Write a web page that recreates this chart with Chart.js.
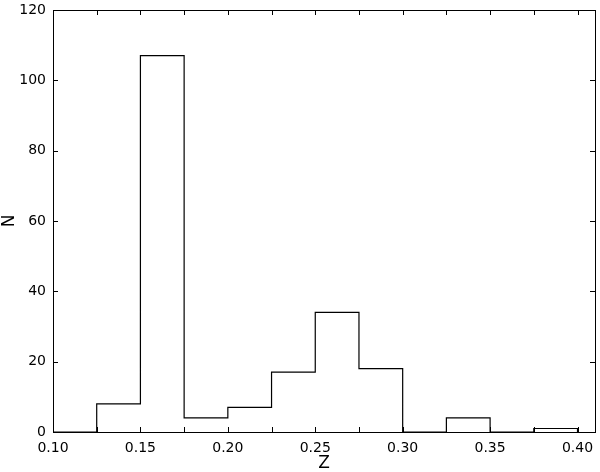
<!DOCTYPE html>
<html>
<head>
<meta charset="utf-8">
<script src="https://cdn.jsdelivr.net/npm/chart.js@4/dist/chart.umd.min.js"></script>
<style>
  body { margin: 0; background: #fff; }
  #wrap { width: 600px; height: 472px; }
</style>
</head>
<body>
<div id="wrap"><canvas id="hist" width="600" height="472"></canvas></div>
<script>
// bin edges of the histogram (width 0.025)
const binEdges = [0.100, 0.125, 0.150, 0.175, 0.200, 0.225, 0.250, 0.275, 0.300, 0.325, 0.350, 0.375, 0.400];
// counts per bin
const counts = [0, 8, 107, 4, 7, 17, 34, 18, 0, 4, 0, 1];
// labelled x ticks, y ticks
const xLabelTicks = [0.10, 0.15, 0.20, 0.25, 0.30, 0.35, 0.40];
const yTicks = [0, 20, 40, 60, 80, 100, 120];

// step outline: each edge gets the count of the bin starting there, last edge drops to 0
const stepPoints = binEdges.map((e, i) => ({ x: e, y: i < counts.length ? counts[i] : 0 }));

const font = { family: 'DejaVu Sans', size: 14 };

// frame + inward ticks on all four sides, like matplotlib
const frameTicks = {
    id: 'frameTicks',
    afterDraw(chart) {
        const { ctx, chartArea: a, scales: { x, y } } = chart;
        const len = 5;
        ctx.save();
        ctx.strokeStyle = '#000';
        ctx.lineWidth = 1;
        ctx.beginPath();
        binEdges.forEach(v => {
            const px = Math.round(x.getPixelForValue(v)) + 0.5;
            ctx.moveTo(px, a.bottom); ctx.lineTo(px, a.bottom - len);
            ctx.moveTo(px, a.top); ctx.lineTo(px, a.top + len);
        });
        yTicks.forEach(v => {
            const py = Math.round(y.getPixelForValue(v)) + 0.5;
            ctx.moveTo(a.left, py); ctx.lineTo(a.left + len, py);
            ctx.moveTo(a.right, py); ctx.lineTo(a.right - len, py);
        });
        ctx.stroke();
        ctx.strokeRect(Math.round(a.left) + 0.5, Math.round(a.top) + 0.5,
            Math.round(a.right - a.left), Math.round(a.bottom - a.top));
        ctx.restore();
    }
};

new Chart(document.getElementById('hist'), {
    type: 'line',
    data: {
        datasets: [{
            data: stepPoints,
            stepped: 'before',
            borderColor: '#000',
            borderWidth: 1.2,
            pointRadius: 0,
            fill: false
        }]
    },
    options: {
        responsive: false,
        animation: false,
        layout: { padding: { left: 0, top: 10, right: 5, bottom: 0 } },
        plugins: { legend: { display: false }, tooltip: { enabled: false } },
        scales: {
            x: {
                type: 'linear',
                min: 0.10,
                max: 0.41,
                afterFit: s => { s.height = 40; s.paddingLeft = 0; s.paddingRight = 0; },
                afterBuildTicks: s => { s.ticks = xLabelTicks.map(v => ({ value: v })); },
                grid: { display: false, drawTicks: false },
                border: { display: false },
                ticks: {
                    color: '#000',
                    font: font,
                    padding: 8,
                    maxRotation: 0,
                    callback: v => v.toFixed(2)
                },
                title: {
                    display: true,
                    text: 'Z',
                    color: '#000',
                    font: { family: 'DejaVu Sans', size: 17, lineHeight: 1 },
                    padding: 0
                }
            },
            y: {
                min: 0,
                max: 120,
                afterFit: s => { s.width = 53; s.paddingTop = 0; s.paddingBottom = 0; },
                afterBuildTicks: s => { s.ticks = yTicks.map(v => ({ value: v })); },
                grid: { display: false, drawTicks: false },
                border: { display: false },
                ticks: {
                    color: '#000',
                    font: font,
                    padding: 7
                },
                title: {
                    display: true,
                    text: 'N',
                    color: '#000',
                    font: { family: 'DejaVu Sans', size: 17, lineHeight: 1 },
                    padding: 1
                }
            }
        }
    },
    plugins: [frameTicks]
});
</script>
</body>
</html>
